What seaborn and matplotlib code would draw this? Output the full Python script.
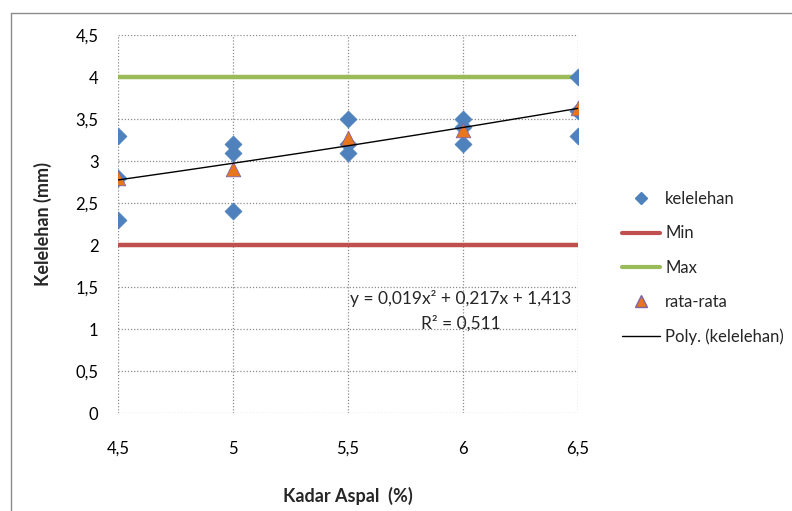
import numpy as np
import pandas as pd
import matplotlib
matplotlib.use("Agg")
import matplotlib.pyplot as plt
from matplotlib.lines import Line2D
import seaborn as sns

# Asphalt content (%) and measured flow (mm), three specimens per content
kadar_aspal = [4.5, 4.5, 4.5, 5.0, 5.0, 5.0, 5.5, 5.5, 5.5, 6.0, 6.0, 6.0, 6.5, 6.5, 6.5]
kelelehan = [3.3, 2.8, 2.3, 3.2, 3.1, 2.4, 3.5, 3.2, 3.1, 3.5, 3.4, 3.2, 4.0, 3.6, 3.3]

# Average flow per asphalt content
kadar_rata = [4.5, 5.0, 5.5, 6.0, 6.5]
rata_rata = [2.8, 2.9, 3.27, 3.37, 3.63]

# Specification limits
batas_x = [4.5, 6.5]
batas_min = [2.0, 2.0]
batas_max = [4.0, 4.0]

# Polynomial trend coefficients (a x^2 + b x + c) and R^2
poly_coef = [0.019, 0.217, 1.413]
r_kuadrat = 0.511

x_ticks = [4.5, 5.0, 5.5, 6.0, 6.5]
x_labels = ["4,5", "5", "5,5", "6", "6,5"]
y_ticks = [0, 0.5, 1, 1.5, 2, 2.5, 3, 3.5, 4, 4.5]
y_labels = ["0", "0,5", "1", "1,5", "2", "2,5", "3", "3,5", "4", "4,5"]

sns.set_theme(style="white")
plt.rcParams["font.family"] = ["Lato", "DejaVu Sans"]

fig = plt.figure(figsize=(7.92, 5.11), dpi=100)
ax = fig.add_axes([118 / 792, 1 - 413 / 511, (578 - 118) / 792, (413 - 35) / 511])

blue = "#4F81BD"
red = "#C0504D"
green = "#9BBB59"
orange = "#E8761E"

df_pts = pd.DataFrame({"x": kadar_aspal, "y": kelelehan})
df_avg = pd.DataFrame({"x": kadar_rata, "y": rata_rata})
df_min = pd.DataFrame({"x": batas_x, "y": batas_min})
df_max = pd.DataFrame({"x": batas_x, "y": batas_max})
xs = np.linspace(batas_x[0], batas_x[1], 200)
df_poly = pd.DataFrame({"x": xs, "y": np.polyval(poly_coef, xs)})

sns.scatterplot(data=df_pts, x="x", y="y", marker="D", s=75, color=blue,
                edgecolor=blue, linewidth=0.5, ax=ax, zorder=3)
sns.lineplot(data=df_min, x="x", y="y", color=red, linewidth=3.2, ax=ax, zorder=2)
sns.lineplot(data=df_max, x="x", y="y", color=green, linewidth=3.2, ax=ax, zorder=2)
sns.scatterplot(data=df_avg, x="x", y="y", marker="^", s=110, color=orange,
                edgecolor="#8064A2", linewidth=0.6, ax=ax, zorder=4)
sns.lineplot(data=df_poly, x="x", y="y", color="black", linewidth=1.0, ax=ax, zorder=5)

ax.set_xlim(4.5, 6.5)
ax.set_ylim(0, 4.5)
ax.set_xticks(x_ticks)
ax.set_xticklabels(x_labels)
ax.set_yticks(y_ticks)
ax.set_yticklabels(y_labels)
ax.tick_params(axis="both", labelsize=12, colors="#000000", length=0)
ax.tick_params(axis="x", pad=20)
ax.tick_params(axis="y", pad=14)
ax.grid(True, linestyle=(0, (1, 1.5)), color="#8c8c8c", linewidth=0.9)
for sp in ax.spines.values():
    sp.set_visible(False)

ax.set_xlabel("Kadar Aspal  (%)", fontsize=13, fontweight="bold")
ax.set_ylabel("Kelelehan (mm)", fontsize=13, fontweight="bold")
ax.xaxis.set_label_coords(0.5, -0.196)
ax.yaxis.set_label_coords(-0.1435, 0.5)

a, b, c = poly_coef
eq = f"y = {a:.3f}x² + {b:.3f}x + {c:.3f}".replace(".", ",")
ax.text(5.99, 1.36, eq, ha="center", va="center", fontsize=12.5)
ax.text(5.99, 1.07, f"R² = {r_kuadrat:.3f}".replace(".", ","),
        ha="center", va="center", fontsize=12.5)

handles = [
    Line2D([], [], marker="D", linestyle="none", color=blue, markersize=6),
    Line2D([], [], color=red, linewidth=3),
    Line2D([], [], color=green, linewidth=3),
    Line2D([], [], marker="^", linestyle="none", color=orange,
           markeredgecolor="#8064A2", markersize=8),
    Line2D([], [], color="black", linewidth=1),
]
labels = ["kelelehan", "Min", "Max", "rata-rata", "Poly. (kelelehan)"]
fig.legend(handles, labels, loc="center left", bbox_to_anchor=(622 / 792, 1 - 268 / 511),
           frameon=False, fontsize=12, handlelength=2.3, handletextpad=0.3,
           labelspacing=1.1, borderaxespad=0, borderpad=0)

# chart area border
fig.add_artist(Line2D([11 / 792, 11 / 792], [0, 1 - 13 / 511],
                      transform=fig.transFigure, color="#8a8a8a", linewidth=1))
fig.add_artist(Line2D([11 / 792, 1], [1 - 13 / 511, 1 - 13 / 511],
                      transform=fig.transFigure, color="#8a8a8a", linewidth=1))

fig.savefig("out.png", dpi=100)
